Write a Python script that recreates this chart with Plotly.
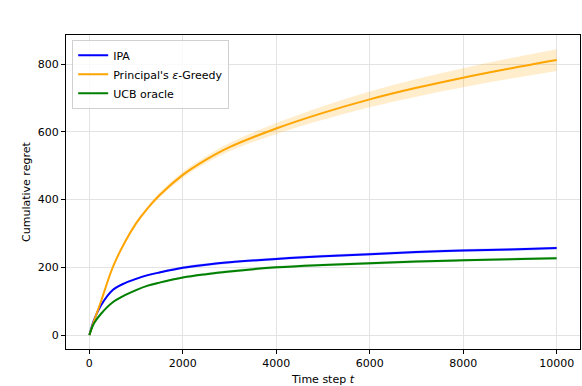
import plotly.graph_objects as go

# time steps and mean cumulative regret
t = [0, 100, 250, 500, 750, 1000, 1250, 1500, 2000, 2500, 3000, 4000, 5000, 6000, 7000, 8000, 9000, 10000]
ipa = [0, 45, 88, 133, 153, 166, 177, 185, 199, 208, 215, 225, 233, 239, 245, 250, 253, 257]
ipa_sd = [0, 1, 2, 3, 3, 3, 3, 3, 4, 4, 4, 4, 4, 4, 4, 4, 4, 4]
greedy = [0, 42, 100, 200, 272, 330, 375, 413, 473, 518, 555, 610, 656, 696, 730, 760, 787, 812]
greedy_sd = [0, 1, 2, 4, 5, 6, 6, 7, 9, 10, 12, 16, 20, 23, 26, 28, 30, 32]
ucb = [0, 35, 63, 97, 117, 133, 146, 155, 170, 180, 188, 200, 207, 212, 217, 221, 224, 227]
ucb_sd = [0, 1, 2, 3, 3, 3, 3, 3, 3, 4, 4, 4, 4, 4, 4, 4, 4, 4]

series = [
    ("IPA", ipa, ipa_sd, "#0000ff", "rgba(0,0,255,0.2)"),
    ("Principal's <i>ε</i>-Greedy", greedy, greedy_sd, "#ffa500", "rgba(255,165,0,0.2)"),
    ("UCB oracle", ucb, ucb_sd, "#008000", "rgba(0,128,0,0.2)"),
]

fig = go.Figure()

# shaded bands first
for name, mean, sd, col, fill in series:
    upper = [m + s for m, s in zip(mean, sd)]
    lower = [m - s for m, s in zip(mean, sd)]
    fig.add_trace(go.Scatter(x=t, y=upper, mode="lines", line=dict(width=0, shape="spline"),
                             showlegend=False, hoverinfo="skip"))
    fig.add_trace(go.Scatter(x=t, y=lower, mode="lines", line=dict(width=0, shape="spline"),
                             fill="tonexty", fillcolor=fill, showlegend=False, hoverinfo="skip"))

for name, mean, sd, col, fill in series:
    fig.add_trace(go.Scatter(x=t, y=mean, mode="lines", name=name,
                             line=dict(color=col, width=2, shape="spline")))

axis_common = dict(
    showline=True, linecolor="black", linewidth=1, mirror=True,
    ticks="outside", ticklen=4, tickcolor="black",
    showgrid=True, gridcolor="#e3e3e3", gridwidth=1,
    zeroline=False, tickfont=dict(size=11, color="black"),
    automargin=False,
)

fig.update_xaxes(range=[-500, 10500], tickvals=[0, 2000, 4000, 6000, 8000, 10000], tickformat="d",
                 title=dict(text="Time step <i>t</i>", font=dict(size=11, color="black")),
                 **axis_common)
fig.update_yaxes(range=[-41, 886], tickvals=[0, 200, 400, 600, 800], **axis_common)

# y title placed by hand, closer to the tick labels like the original
fig.add_annotation(text="Cumulative regret", textangle=-90, showarrow=False,
                   xref="paper", yref="paper", x=-0.078, y=0.5,
                   xanchor="center", yanchor="middle", font=dict(size=11, color="black"))

fig.update_layout(
    width=582, height=386,
    margin=dict(l=66, r=2, t=35, b=37),
    paper_bgcolor="white", plot_bgcolor="white",
    font=dict(family="DejaVu Sans", size=11, color="black"),
    legend=dict(x=0.012, y=0.985, xanchor="left", yanchor="top", traceorder="normal",
                bgcolor="rgba(255,255,255,0.8)", bordercolor="#d0d0d0", borderwidth=1,
                font=dict(size=11), tracegroupgap=0, itemwidth=30),
    showlegend=True,
)

# drop the browser's default body margin so the figure sits at the page corner
fig.write_html("out.html", config={"displayModeBar": False},
               post_script="document.body.style.margin='0';")
